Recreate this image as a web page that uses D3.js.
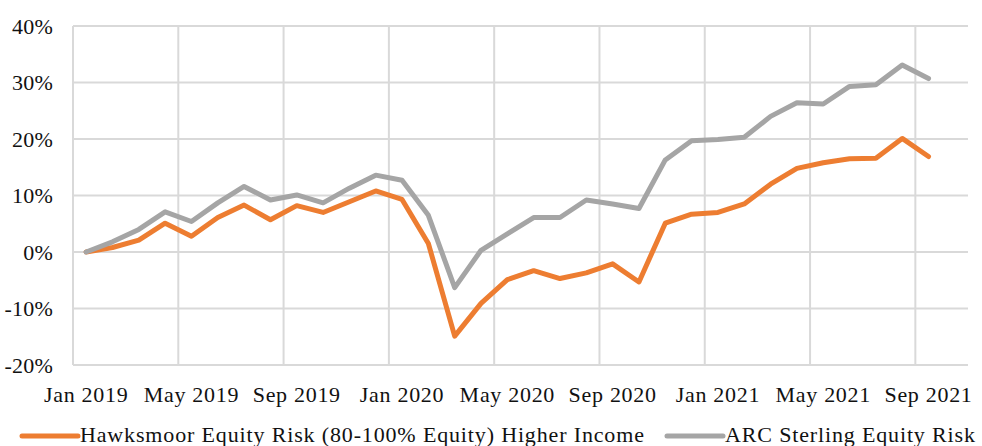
<!DOCTYPE html>
<html>
<head>
<meta charset="utf-8">
<script src="https://cdn.jsdelivr.net/npm/d3@7"></script>
<style>
  html, body { margin: 0; padding: 0; background: #fff; }
  svg text { font-family: "Liberation Serif", "Times New Roman", serif; fill: #111; }
</style>
</head>
<body>
<svg id="chart" width="982" height="446"></svg>
<script>
// Months on the axis (Jan 2019 .. Oct 2021), data runs Jan 2019 .. Sep 2021
const axisMonths = d3.timeMonth.range(new Date(2019, 0, 1), new Date(2021, 10, 1));
const tickMonths = ["Jan 2019", "May 2019", "Sep 2019", "Jan 2020", "May 2020", "Sep 2020", "Jan 2021", "May 2021", "Sep 2021"];
const yTicks = [-20, -10, 0, 10, 20, 30, 40];

const seriesNames = ["Hawksmoor Equity Risk (80-100% Equity) Higher Income", "ARC Sterling Equity Risk"];
const hawksmoor = [0, 0.8, 2.1, 5.1, 2.8, 6.1, 8.3, 5.7, 8.2, 7.0, 8.9, 10.8, 9.3, 1.5, -14.9, -9.1, -4.9,
  -3.3, -4.7, -3.7, -2.1, -5.3, 5.1, 6.7, 7.0, 8.5, 12.0, 14.8, 15.8, 16.5, 16.6, 20.1, 16.9];
const arc = [0, 1.8, 4.0, 7.1, 5.4, 8.7, 11.6, 9.2, 10.1, 8.7, 11.3, 13.6, 12.7, 6.5, -6.3, 0.3, 3.2,
  6.1, 6.1, 9.2, 8.5, 7.7, 16.3, 19.7, 19.9, 20.3, 24.0, 26.4, 26.2, 29.3, 29.6, 33.1, 30.7];

const colors = ["#ED7D31", "#A5A5A5"];
const fmt = d3.timeFormat("%b %Y");

const svg = d3.select("#chart");
const L = 73, R = 968, T = 26, B = 365;

const x = d3.scaleBand().domain(axisMonths.map(fmt)).range([L, R]).padding(0);
const y = d3.scaleLinear().domain([-20, 40]).range([B, T]);

const grid = svg.append("g");
grid.selectAll("line.h").data(yTicks).join("line")
  .attr("x1", L).attr("x2", R)
  .attr("y1", d => y(d)).attr("y2", d => y(d))
  .attr("stroke", "#D9D9D9").attr("stroke-width", 2);
grid.selectAll("line.v").data(tickMonths).join("line")
  .attr("x1", d => x(d)).attr("x2", d => x(d))
  .attr("y1", T).attr("y2", B)
  .attr("stroke", "#D9D9D9").attr("stroke-width", 2);

// y-axis labels
const yAxis = d3.axisLeft(y).tickValues(yTicks).tickFormat(d => d + "%").tickSize(0).tickPadding(20);
svg.append("g").attr("transform", `translate(${L},0)`).call(yAxis)
  .call(g => g.select(".domain").remove())
  .selectAll("text").attr("font-size", 22).attr("font-family", "Liberation Serif").attr("fill", "#111")
  .attr("letter-spacing", 0.2);

// x-axis labels
const xAxis = d3.axisBottom(x).tickValues(tickMonths).tickSize(0).tickPadding(21);
svg.append("g").attr("transform", `translate(0,${B})`).call(xAxis)
  .call(g => g.select(".domain").remove())
  .selectAll("text").attr("font-size", 22).attr("font-family", "Liberation Serif").attr("fill", "#111")
  .attr("letter-spacing", 0.7);

// lines
const line = d3.line()
  .x((d, i) => x(fmt(axisMonths[i])) + x.bandwidth() / 2)
  .y(d => y(d));
[hawksmoor, arc].forEach((s, k) => {
  svg.append("path").datum(s)
    .attr("d", line)
    .attr("fill", "none")
    .attr("stroke", colors[k])
    .attr("stroke-width", 5)
    .attr("stroke-linejoin", "round")
    .attr("stroke-linecap", "round");
});

// legend
const legendX = [22, 667];
const leg = svg.append("g");
seriesNames.forEach((n, k) => {
  leg.append("line")
    .attr("x1", legendX[k]).attr("x2", legendX[k] + 56)
    .attr("y1", 436).attr("y2", 436)
    .attr("stroke", colors[k]).attr("stroke-width", 5).attr("stroke-linecap", "round");
  leg.append("text")
    .attr("x", legendX[k] + 58).attr("y", 442)
    .attr("font-size", 22).attr("letter-spacing", 0.85)
    .text(n);
});
</script>
</body>
</html>
